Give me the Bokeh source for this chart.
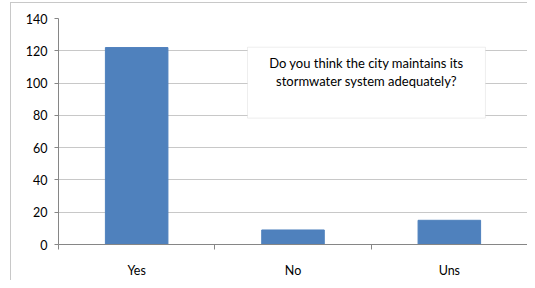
from bokeh.plotting import figure
from bokeh.models import (ColumnDataSource, FixedTicker, Range1d, BoxAnnotation,
                          Label, LinearAxis, InlineStyleSheet)
from bokeh.embed import file_html
from bokeh.resources import INLINE

categories = ["Yes", "No", "Uns"]
responses = [122, 9, 15]
y_ticks = [0, 20, 40, 60, 80, 100, 120, 140]
question = "Do you think the city maintains its\nstormwater system adequately?"

FONT = "Lato"
positions = [i + 0.5 for i in range(len(categories))]
src = ColumnDataSource(dict(x=positions, top=responses, cat=categories))

p = figure(width=527, height=280, output_backend="svg", toolbar_location=None,
           x_range=Range1d(0, len(categories)), y_range=Range1d(0, 140),
           min_border_left=58, min_border_right=0, min_border_top=18,
           min_border_bottom=36, x_axis_type=None)
p.outline_line_color = None
p.background_fill_color = "white"
p.border_fill_color = "white"

# outer chart border (left and top edges visible), drawn with CSS
p.stylesheets = [InlineStyleSheet(css="""
:host { position: relative; }
:host::after { content: ""; position: absolute; left: 10px; top: 2px;
  right: 0px; bottom: 0px; border-left: 1px solid #c8c8c8;
  border-top: 1px solid #c8c8c8; pointer-events: none; z-index: 10; }
""")]

p.vbar(x="x", top="top", width=0.4, source=src, fill_color="#4f81bd",
       line_color="#4f81bd")

# y axis
p.yaxis.ticker = FixedTicker(ticks=y_ticks, minor_ticks=[])
p.yaxis.axis_line_color = "#868686"
p.yaxis.major_tick_line_color = "#868686"
p.yaxis.major_tick_out = 4
p.yaxis.major_tick_in = 0
p.yaxis.minor_tick_line_color = None
p.yaxis.major_label_text_font = FONT
p.yaxis.major_label_text_font_size = "12.5px"
p.yaxis.major_label_text_color = "#000000"
p.yaxis.major_label_standoff = 7
p.ygrid.grid_line_color = "#c8c8c8"
p.ygrid.ticker = FixedTicker(ticks=y_ticks)
p.xgrid.grid_line_color = None

# x axis: labels at category centres, ticks at boundaries
xa = LinearAxis(ticker=FixedTicker(ticks=positions,
                                   minor_ticks=list(range(len(categories) + 1))),
                major_label_overrides={pos: c for pos, c in zip(positions, categories)})
xa.axis_line_color = "#868686"
xa.major_tick_line_color = None
xa.major_tick_out = 0
xa.minor_tick_line_color = "#868686"
xa.minor_tick_out = 5
xa.minor_tick_in = 0
xa.major_label_text_font = FONT
xa.major_label_text_font_size = "12.5px"
xa.major_label_text_color = "#000000"
xa.major_label_standoff = 13
p.add_layout(xa, "below")

# question text box
p.add_layout(BoxAnnotation(left=1.209, right=2.731, top=122.2, bottom=78.3,
                           fill_color="white", fill_alpha=1,
                           line_color="#c8c8c8", line_width=1))
p.add_layout(Label(x=1.97, y=107.0, text=question, text_align="center",
                   text_baseline="middle", text_font=FONT,
                   text_font_size="13px", text_line_height=1.15,
                   text_color="#000000"))

open("out.html", "w").write(file_html(p, INLINE))
